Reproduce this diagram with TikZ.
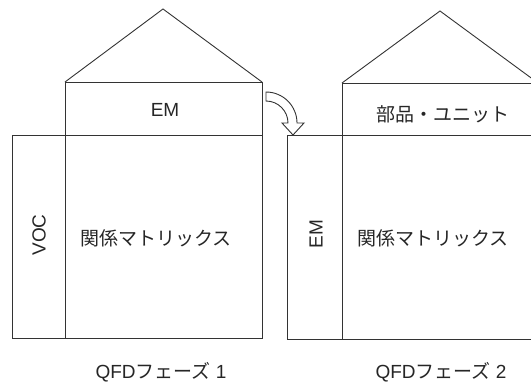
\documentclass[tikz,border=0pt]{standalone}
\usepackage{fontspec}
\setmainfont{Liberation Sans}
\newfontfamily\cjk{Noto Sans CJK JP}
\begin{document}
\begin{tikzpicture}[x=1pt,y=-1pt,
  frame/.style={draw=black!80, line width=0.9pt},
  lbl/.style={font=\fontsize{19}{22}\selectfont, text=black!85, inner sep=0pt},
  captxt/.style={font=\fontsize{19}{22}\selectfont, text=black!85, inner sep=0pt}]
\useasboundingbox (0,0) rectangle (531,383);
\clip (0,0) rectangle (531,383);
% Phase 1
\draw[frame] (65,82) -- (163,9) -- (262,82);
\draw[frame] (65,82) rectangle (262,135);
\draw[frame] (12,135) rectangle (262,338);
\draw[frame] (65,82) -- (65,338);
\node[lbl] (em1) at (165,110) {EM};
\node[lbl, rotate=90] (voc) at (39,235) {VOC};
\node[lbl] (mat1) at (156,238) {\cjk 関係マトリックス};
\node[captxt] (cap1) at (161,372) {QFD{\cjk フェーズ} 1};
% Phase 2
\draw[frame] (342,83) -- (440,11) -- (538,83);
\draw[frame] (342,83) rectangle (540,135);
\draw[frame] (287,135) rectangle (540,339);
\draw[frame] (342,83) -- (342,339);
\node[lbl] (parts) at (443,114) {\cjk 部品・ユニット};
\node[lbl, rotate=90] (em2) at (316,234) {EM};
\node[lbl] (mat2) at (433,238) {\cjk 関係マトリックス};
\node[captxt] (cap2) at (441,372) {QFD{\cjk フェーズ} 2};
% hollow curved arrow
\draw[frame, fill=white, line join=miter]
  (266,92) .. controls (283.1,92) and (297,105.9) .. (297,123)
  -- (304,123) -- (293,135) -- (282,123) -- (288,123)
  .. controls (288,110.9) and (278.1,101) .. (266,101) -- cycle;
\end{tikzpicture}
\end{document}
